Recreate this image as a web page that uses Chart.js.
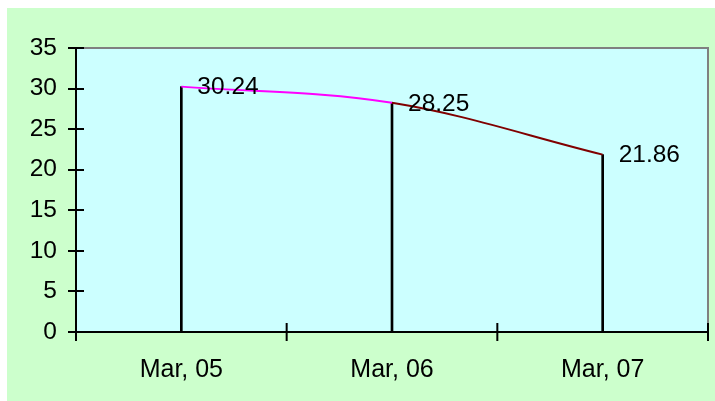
<!DOCTYPE html>
<html>
<head>
    <meta charset="utf-8">
    <title>Mar chart</title>
    <script src="https://cdn.jsdelivr.net/npm/chart.js@4.4.1/dist/chart.umd.min.js"></script>
    <style>
        body { margin: 0; background: #fff; }
        canvas { display: block; }
    </style>
</head>
<body>
    <canvas id="chart" width="715" height="401"></canvas>
    <script>
        const labels = ['Mar, 05', 'Mar, 06', 'Mar, 07'];
        const values = [30.24, 28.25, 21.86];
        const valueLabels = ['30.24', '28.25', '21.86'];
        const yMin = 0, yMax = 35, yStep = 5;

        const FONT = '"Liberation Sans", Arial, sans-serif';

        // backgrounds, plot frame, crossing tick marks, value labels
        const decor = {
            id: 'decor',
            beforeDraw(chart) {
                const c = chart.ctx, a = chart.chartArea;
                c.save();
                c.fillStyle = '#CCFFCC';
                c.fillRect(7, 8, chart.width - 7, chart.height - 8);
                c.fillStyle = '#CCFFFF';
                c.fillRect(a.left, a.top, a.right - a.left, a.bottom - a.top);
                c.strokeStyle = '#808080';
                c.lineWidth = 2;
                c.beginPath();
                c.moveTo(a.left, a.top);
                c.lineTo(a.right, a.top);
                c.lineTo(a.right, a.bottom);
                c.stroke();
                c.restore();
            },
            afterDraw(chart) {
                const c = chart.ctx, a = chart.chartArea;
                const xs = chart.scales.x, ys = chart.scales.y;
                c.save();
                c.strokeStyle = '#000';
                c.lineWidth = 2;
                c.beginPath();
                ys.ticks.forEach(t => {
                    const y = Math.round(ys.getPixelForValue(t.value));
                    c.moveTo(a.left - 8, y);
                    c.lineTo(a.left + 8, y);
                });
                const n = labels.length;
                for (let i = 0; i <= n; i++) {
                    const x = xs.left + i * (xs.right - xs.left) / n;
                    c.moveTo(x, a.bottom - 9);
                    c.lineTo(x, a.bottom + 9);
                }
                c.stroke();

                const meta = chart.getDatasetMeta(1);
                c.fillStyle = '#000';
                c.font = '24.5px ' + FONT;
                c.textBaseline = 'middle';
                c.textAlign = 'left';
                meta.data.forEach((pt, i) => {
                    c.fillText(valueLabels[i], pt.x + 16, pt.y + 1);
                });
                c.restore();
            }
        };

        new Chart(document.getElementById('chart'), {
            data: {
                labels: labels,
                datasets: [{
                    type: 'bar',
                    data: values,
                    backgroundColor: '#000',
                    barThickness: 2,
                    order: 2
                }, {
                    type: 'line',
                    data: values,
                    borderWidth: 2,
                    tension: 0.35,
                    pointRadius: 0,
                    fill: false,
                    order: 1,
                    segment: {
                        borderColor: ctx => ctx.p0DataIndex === 0 ? '#FF00FF' : '#800000'
                    }
                }]
            },
            options: {
                responsive: false,
                animation: false,
                devicePixelRatio: 1,
                layout: { padding: { top: 48, right: 7, left: 0, bottom: 0 } },
                plugins: { legend: { display: false }, tooltip: { enabled: false } },
                scales: {
                    x: {
                        offset: true,
                        grid: { display: false, drawTicks: false },
                        border: { display: true, color: '#000', width: 2 },
                        ticks: { color: '#000', font: { family: FONT, size: 25 }, padding: 23, maxRotation: 0 },
                        afterFit(s) { s.height = 69; }
                    },
                    y: {
                        min: yMin,
                        max: yMax,
                        grid: { display: false, drawTicks: false },
                        border: { display: true, color: '#000', width: 2 },
                        ticks: { stepSize: yStep, color: '#000', font: { family: FONT, size: 24.5 }, padding: 19 },
                        afterFit(s) { s.width = 76; }
                    }
                }
            },
            plugins: [decor]
        });
    </script>
</body>
</html>
